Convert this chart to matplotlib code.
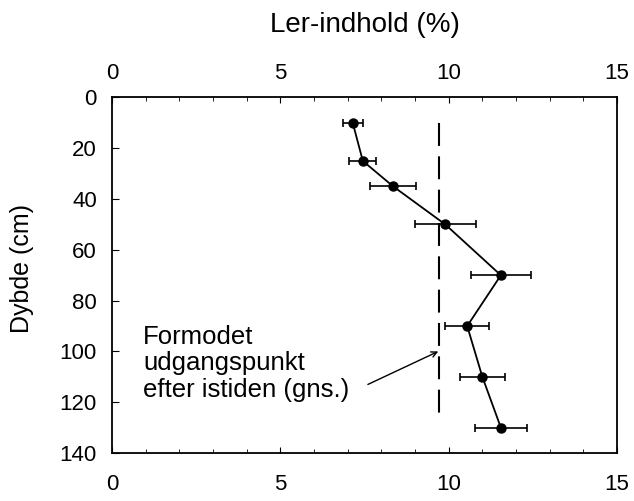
import matplotlib
matplotlib.use('Agg')
import matplotlib.pyplot as plt
from matplotlib.ticker import MultipleLocator

plt.rcParams['font.family'] = ['Liberation Sans', 'DejaVu Sans']

# clay content (%) vs depth (cm)
depth = [10, 25, 35, 50, 70, 90, 110, 130]
clay = [7.15, 7.45, 8.35, 9.9, 11.55, 10.55, 11.0, 11.55]
clay_err = [0.3, 0.4, 0.68, 0.9, 0.9, 0.66, 0.67, 0.78]

baseline = 9.72
baseline_depth = [10, 128]

x_ticks = [0, 5, 10, 15]
y_ticks = [0, 20, 40, 60, 80, 100, 120, 140]

note = "Formodet\nudgangspunkt\nefter istiden (gns.)"

fig = plt.figure(figsize=(6.34, 5.01), dpi=100)
ax = fig.add_axes([0.1767, 0.0958, 0.7965, 0.7096])

ax.errorbar(clay, depth, xerr=clay_err, color='black', lw=1.3,
            marker='o', ms=6.5, capsize=3, elinewidth=1.2, capthick=1.2)
ax.plot([baseline, baseline], baseline_depth, color='black', lw=1.5,
        dashes=(11, 5))

ax.text(0.92, 120, note, fontsize=18.5, ha='left', va='bottom',
        linespacing=1.15)
ax.annotate('', xy=(9.69, 100), xytext=(7.6, 113),
            arrowprops=dict(arrowstyle='->', color='black', lw=1.0,
                            shrinkA=0, shrinkB=0))

ax.set_xlim(0, 15)
ax.set_ylim(140, 0)
ax.set_xticks(x_ticks)
ax.set_yticks(y_ticks)
ax.xaxis.set_minor_locator(MultipleLocator(1))
ax.tick_params(axis='x', which='both', direction='in', top=True,
               labelsize=16, pad=15)
ax.tick_params(axis='x', which='major', length=4)
ax.tick_params(axis='x', which='minor', length=3)
ax.tick_params(axis='y', direction='in', labelsize=16, length=5, pad=11)
for s in ax.spines.values():
    s.set_linewidth(1.3)

# top scale, same values, closer to the frame
top = ax.secondary_xaxis('top')
top.set_xticks(x_ticks)
top.tick_params(axis='x', length=0, labelsize=16, pad=10)
top.spines['top'].set_visible(False)

fig.text(0.035, 0.465, 'Dybde (cm)', fontsize=18, rotation=90,
         ha='center', va='center')
fig.text(0.576, 0.95, 'Ler-indhold (%)', fontsize=20, ha='center', va='center')

plt.savefig('out.png', dpi=100)
